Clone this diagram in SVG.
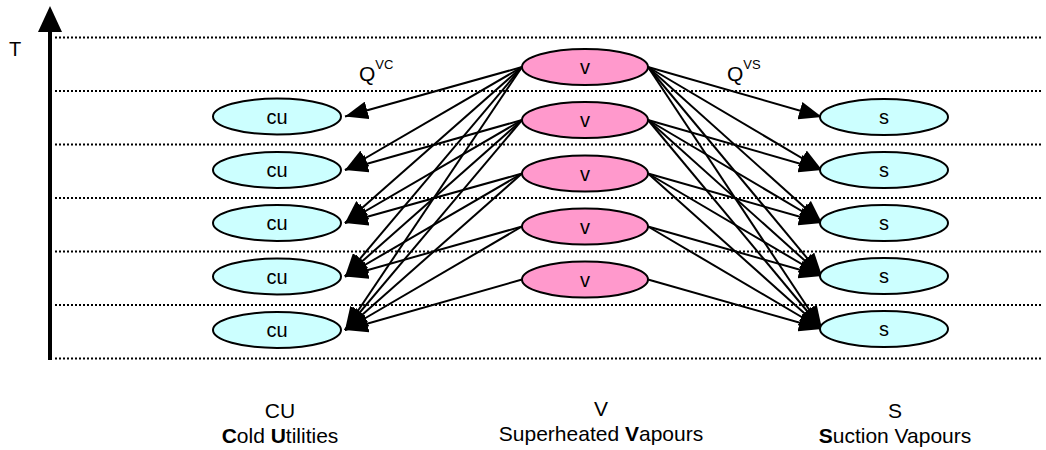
<svg xmlns="http://www.w3.org/2000/svg" width="1046" height="450" viewBox="0 0 1046 450">
<style>
text{font-family:"Liberation Sans",Arial,sans-serif;fill:#000}
.grid{stroke:#000;stroke-width:2;stroke-dasharray:2,2;fill:none}
.cold{fill:#CCFFFF;stroke:#000;stroke-width:2}
.vap{fill:#FF99CC;stroke:#000;stroke-width:2}
.lbl{font-size:20px;text-anchor:middle}
.cap{font-size:21px;text-anchor:middle}
.edge{stroke:#000;stroke-width:2;fill:none;marker-end:url(#ah)}
</style>
<defs>
<marker id="ah" markerUnits="userSpaceOnUse" markerWidth="23" markerHeight="18" refX="23" refY="9" orient="auto" viewBox="0 0 23 18">
<path d="M0,0 L23,9 L0,18 z" fill="#000"/>
</marker>
</defs>
<rect width="1046" height="450" fill="#fff"/>
<g id="grid">
<line class="grid" x1="55" y1="37.5" x2="1042" y2="37.5"/>
<line class="grid" x1="55" y1="91" x2="1042" y2="91"/>
<line class="grid" x1="55" y1="144.5" x2="1042" y2="144.5"/>
<line class="grid" x1="55" y1="198" x2="1042" y2="198"/>
<line class="grid" x1="55" y1="251.5" x2="1042" y2="251.5"/>
<line class="grid" x1="55" y1="305" x2="1042" y2="305"/>
<line class="grid" x1="55" y1="358.5" x2="1042" y2="358.5"/>
</g>
<g id="axis">
<line x1="50" y1="360" x2="50" y2="28" stroke="#000" stroke-width="4"/>
<polygon points="50,6 38,32 62,32" fill="#000"/>
<text x="9" y="56" font-size="20">T</text>
</g>
<g id="connectors">
<line class="edge" x1="522" y1="67" x2="345" y2="116.5"/>
<line class="edge" x1="522" y1="67" x2="345" y2="170"/>
<line class="edge" x1="522" y1="67" x2="345" y2="223"/>
<line class="edge" x1="522" y1="67" x2="345" y2="276.5"/>
<line class="edge" x1="522" y1="67" x2="345" y2="330"/>
<line class="edge" x1="522" y1="120" x2="345" y2="170"/>
<line class="edge" x1="522" y1="120" x2="345" y2="223"/>
<line class="edge" x1="522" y1="120" x2="345" y2="276.5"/>
<line class="edge" x1="522" y1="120" x2="345" y2="330"/>
<line class="edge" x1="522" y1="173.5" x2="345" y2="223"/>
<line class="edge" x1="522" y1="173.5" x2="345" y2="276.5"/>
<line class="edge" x1="522" y1="173.5" x2="345" y2="330"/>
<line class="edge" x1="522" y1="226.5" x2="345" y2="276.5"/>
<line class="edge" x1="522" y1="226.5" x2="345" y2="330"/>
<line class="edge" x1="522" y1="279.5" x2="345" y2="330"/>
<line class="edge" x1="648" y1="67" x2="822" y2="117"/>
<line class="edge" x1="648" y1="67" x2="822" y2="170"/>
<line class="edge" x1="648" y1="67" x2="822" y2="223"/>
<line class="edge" x1="648" y1="67" x2="822" y2="276"/>
<line class="edge" x1="648" y1="67" x2="822" y2="329"/>
<line class="edge" x1="648" y1="120" x2="822" y2="170"/>
<line class="edge" x1="648" y1="120" x2="822" y2="223"/>
<line class="edge" x1="648" y1="120" x2="822" y2="276"/>
<line class="edge" x1="648" y1="120" x2="822" y2="329"/>
<line class="edge" x1="648" y1="173.5" x2="822" y2="223"/>
<line class="edge" x1="648" y1="173.5" x2="822" y2="276"/>
<line class="edge" x1="648" y1="173.5" x2="822" y2="329"/>
<line class="edge" x1="648" y1="226.5" x2="822" y2="276"/>
<line class="edge" x1="648" y1="226.5" x2="822" y2="329"/>
<line class="edge" x1="648" y1="279.5" x2="822" y2="329"/>
<text x="359" y="81" font-size="21">Q<tspan font-size="13" dy="-12">VC</tspan></text>
<text x="727" y="81" font-size="21">Q<tspan font-size="13" dy="-12">VS</tspan></text>
</g>
<g id="cu1"><ellipse class="cold" cx="277" cy="116.5" rx="64" ry="18"/><text class="lbl" x="277" y="123.5">cu</text></g>
<g id="cu2"><ellipse class="cold" cx="277" cy="170" rx="64" ry="18"/><text class="lbl" x="277" y="177">cu</text></g>
<g id="cu3"><ellipse class="cold" cx="277" cy="223" rx="64" ry="18"/><text class="lbl" x="277" y="230">cu</text></g>
<g id="cu4"><ellipse class="cold" cx="277" cy="276.5" rx="64" ry="18"/><text class="lbl" x="277" y="283.5">cu</text></g>
<g id="cu5"><ellipse class="cold" cx="277" cy="330" rx="64" ry="18"/><text class="lbl" x="277" y="337">cu</text></g>
<g id="v1"><ellipse class="vap" cx="585" cy="67" rx="63" ry="18"/><text class="lbl" x="585" y="74">v</text></g>
<g id="v2"><ellipse class="vap" cx="585" cy="120" rx="63" ry="18"/><text class="lbl" x="585" y="127">v</text></g>
<g id="v3"><ellipse class="vap" cx="585" cy="173.5" rx="63" ry="18"/><text class="lbl" x="585" y="180.5">v</text></g>
<g id="v4"><ellipse class="vap" cx="585" cy="226.5" rx="63" ry="18"/><text class="lbl" x="585" y="233.5">v</text></g>
<g id="v5"><ellipse class="vap" cx="585" cy="279.5" rx="63" ry="18"/><text class="lbl" x="585" y="286.5">v</text></g>
<g id="s1"><ellipse class="cold" cx="884" cy="117" rx="64" ry="18"/><text class="lbl" x="884" y="124">s</text></g>
<g id="s2"><ellipse class="cold" cx="884" cy="170" rx="64" ry="18"/><text class="lbl" x="884" y="177">s</text></g>
<g id="s3"><ellipse class="cold" cx="884" cy="223" rx="64" ry="18"/><text class="lbl" x="884" y="230">s</text></g>
<g id="s4"><ellipse class="cold" cx="884" cy="276" rx="64" ry="18"/><text class="lbl" x="884" y="283">s</text></g>
<g id="s5"><ellipse class="cold" cx="884" cy="329" rx="64" ry="18"/><text class="lbl" x="884" y="336">s</text></g>
<g id="label-cu">
<text class="cap" x="280" y="418">CU</text>
<text class="cap" x="280" y="443"><tspan font-weight="bold">C</tspan>old <tspan font-weight="bold">U</tspan>tilities</text>
</g>
<g id="label-v">
<text class="cap" x="601" y="416">V</text>
<text class="cap" x="601" y="441">Superheated <tspan font-weight="bold">V</tspan>apours</text>
</g>
<g id="label-s">
<text class="cap" x="895" y="418">S</text>
<text class="cap" x="895" y="443"><tspan font-weight="bold">S</tspan>uction Vapours</text>
</g>
</svg>
